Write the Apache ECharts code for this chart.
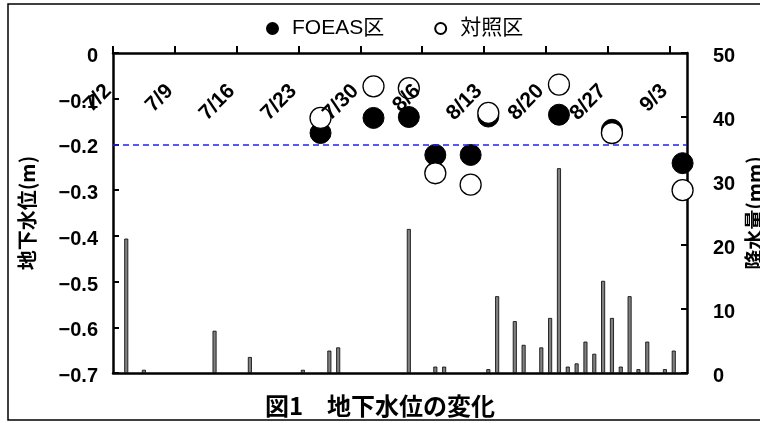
<!DOCTYPE html>
<html>
<head>
<meta charset="utf-8">
<script src="https://cdn.jsdelivr.net/npm/echarts@6/dist/echarts.min.js"></script>
<style>html,body{margin:0;padding:0;background:#fff;}#c{width:760px;height:423px;}</style>
</head>
<body>
<div id="c"></div>
<script>
// Top axis tick labels (weekly, starting 7/2)
const tickLabels = ['7/2','7/9','7/16','7/23','7/30','8/6','8/13','8/20','8/27','9/3'];
// Daily rainfall (mm)
const rainDates = ['7/3','7/5','7/13','7/17','7/23','7/26','7/27','8/4','8/7','8/8','8/13','8/14','8/16','8/17','8/19','8/20','8/21','8/22','8/23','8/24','8/25','8/26','8/27','8/28','8/29','8/30','8/31','9/2','9/3'];
const rainMm   = [21, 0.5, 6.6, 2.5, 0.5, 3.5, 4.0, 22.5, 1.0, 1.0, 0.6, 12.0, 8.1, 4.4, 4.0, 8.6, 32.0, 1.0, 1.5, 4.9, 3.0, 14.4, 8.6, 1.0, 12.0, 0.6, 4.9, 0.6, 3.5];
// Groundwater level (m)
const obsDates = ['7/25','7/31','8/4','8/7','8/11','8/13','8/21','8/27','9/4'];
const foeas    = [-0.175, -0.142, -0.140, -0.223, -0.223, -0.139, -0.135, -0.168, -0.241];
const control  = [-0.142, -0.073, -0.077, -0.263, -0.288, -0.131, -0.069, -0.175, -0.300];
const refLevel = -0.2;

// Daily categories 7/2 .. 9/4
const days = [];
for (let i = 0; i < 65; i++) {
  const d = new Date(2000, 6, 2 + i);
  days.push((d.getMonth() + 1) + '/' + d.getDate());
}

const numFont = 'Liberation Sans, Arial, sans-serif';
const cjkFont = 'Noto Sans CJK JP, sans-serif';
const mixFont = 'Liberation Sans, Noto Sans CJK JP, sans-serif';
const chart = echarts.init(document.getElementById('c'));
chart.setOption({
  animation: false,
  backgroundColor: '#fff',
  graphic: [{
    type: 'rect', shape: {x: 8, y: 4, width: 800, height: 416},
    style: {fill: 'none', stroke: '#000', lineWidth: 1.5}, silent: true, z: -10
  }],
  title: {
    text: '図1　地下水位の変化', left: 'center', top: 389,
    textStyle: {fontFamily: cjkFont, fontWeight: 'bold', fontSize: 24, color: '#000'}
  },
  legend: {
    left: 261, top: 13, itemWidth: 11, itemHeight: 11, itemGap: 50,
    textStyle: {fontFamily: mixFont, fontSize: 21, color: '#000', padding: [0, 0, 0, 9]},
    data: ['FOEAS区', '対照区']
  },
  grid: {left: 113, right: 73, top: 53, bottom: 50, outerBoundsMode: 'none', containLabel: false},
  xAxis: [{
    type: 'value', position: 'top', min: 0, max: days.length, z: 10,
    axisLine: {show: true, lineStyle: {color: '#000', width: 2.5}},
    axisTick: {show: true, inside: false, length: 7, lineStyle: {color: '#000', width: 2}, customValues: tickLabels.map((_, i) => i * 7)},
    axisLabel: {
      show: true, inside: true, rotate: 45, margin: 30, padding: [0, 7, 0, 0],
      customValues: tickLabels.map((_, i) => i * 7),
      formatter: v => tickLabels[Math.round(v / 7)] || '',
      fontFamily: numFont, fontWeight: 'bold', fontSize: 21, color: '#000'
    },
    splitLine: {show: false}
  }, {
    type: 'category', position: 'bottom', data: days, boundaryGap: true,
    axisLine: {show: true, lineStyle: {color: '#000', width: 2.5}},
    axisTick: {show: false}, axisLabel: {show: false}, splitLine: {show: false}
  }],
  yAxis: [{
    type: 'value', min: -0.7, max: 0, interval: 0.1,
    name: '地下水位(m)', nameLocation: 'middle', nameGap: 76, nameRotate: 90, nameMoveOverlap: false,
    nameTextStyle: {fontFamily: cjkFont, fontWeight: 'bold', fontSize: 20, color: '#000'},
    axisLine: {show: true, lineStyle: {color: '#000', width: 2.5}},
    axisTick: {show: true, inside: true, length: 6, lineStyle: {color: '#000', width: 2}},
    axisLabel: {
      margin: 15, verticalAlign: 'top', lineHeight: 7,
      formatter: v => (Math.abs(v) < 1e-9 ? '0' : v.toFixed(1).replace('-', '\u2212')),
      fontFamily: numFont, fontWeight: 'bold', fontSize: 20, color: '#000'
    },
    splitLine: {show: false}
  }, {
    type: 'value', min: 0, max: 50, interval: 10, position: 'right',
    name: '降水量(mm)', nameLocation: 'middle', nameGap: 57, nameRotate: 90, nameMoveOverlap: false,
    nameTextStyle: {fontFamily: cjkFont, fontWeight: 'bold', fontSize: 20, color: '#000'},
    axisLine: {show: true, lineStyle: {color: '#000', width: 2.5}},
    axisTick: {show: true, inside: true, length: 6, lineStyle: {color: '#000', width: 2}},
    axisLabel: {
      margin: 26, verticalAlign: 'top', lineHeight: 7,
      fontFamily: numFont, fontWeight: 'bold', fontSize: 20, color: '#000'
    },
    splitLine: {show: false}
  }],
  series: [{
    name: '降水量', type: 'bar', xAxisIndex: 1, yAxisIndex: 1, barWidth: 4,
    itemStyle: {color: '#808080', borderColor: '#000', borderWidth: 0.8},
    data: rainDates.map((d, i) => [d, rainMm[i]]), z: 1
  }, {
    name: 'FOEAS区', type: 'scatter', xAxisIndex: 1, yAxisIndex: 0, symbol: 'circle', symbolSize: 21,
    itemStyle: {color: '#000', borderColor: '#000', borderWidth: 1, opacity: 1},
    data: obsDates.map((d, i) => [d, foeas[i]]), z: 3,
    markLine: {
      silent: true, symbol: 'none', label: {show: false},
      lineStyle: {color: '#2222ee', type: [6, 4], width: 1.6},
      data: [{yAxis: refLevel}]
    }
  }, {
    name: '対照区', type: 'scatter', xAxisIndex: 1, yAxisIndex: 0, symbol: 'circle', symbolSize: 21,
    itemStyle: {color: '#fff', borderColor: '#000', borderWidth: 1.3, opacity: 1},
    data: obsDates.map((d, i) => [d, control[i]]), z: 4
  }]
});
</script>
</body>
</html>
